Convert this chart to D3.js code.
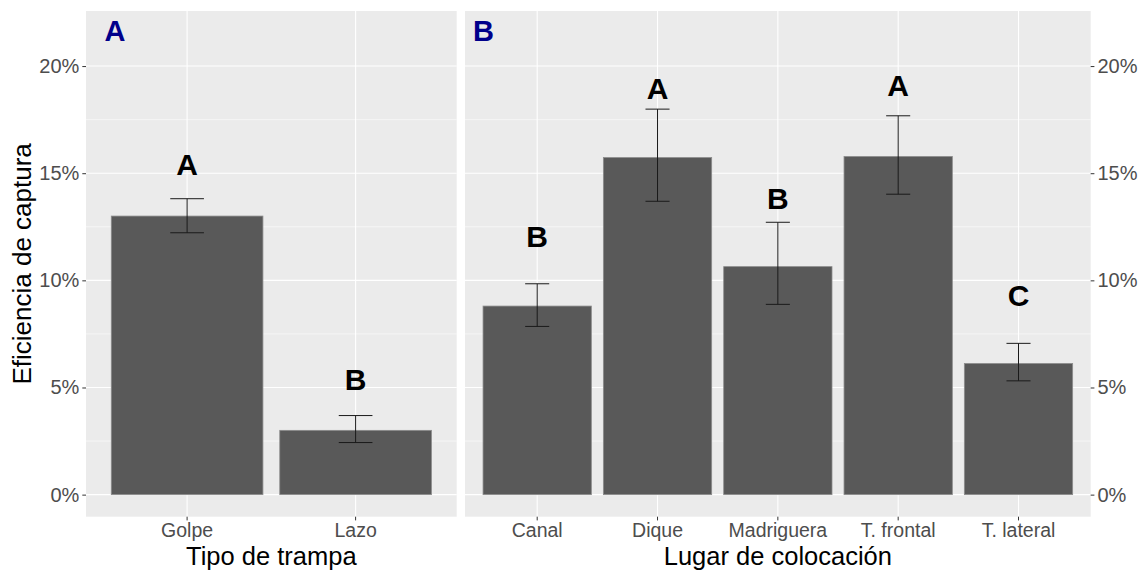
<!DOCTYPE html>
<html>
<head>
<meta charset="utf-8">
<script src="https://cdn.jsdelivr.net/npm/d3@7"></script>
<style>
  body { margin: 0; background: #fff; }
  svg { display: block; font-family: "Liberation Sans", Arial, sans-serif; }
</style>
</head>
<body>
<div id="chart"></div>
<script>
// Panel A: trap type
const trapTypes = ["Golpe", "Lazo"];
const trapEff = [13.0, 3.0];
const trapLow = [12.22, 2.43];
const trapHigh = [13.81, 3.69];
const trapLetters = ["A", "B"];
const trapLetterPos = [15.4, 5.4];

// Panel B: placement site
const sites = ["Canal", "Dique", "Madriguera", "T. frontal", "T. lateral"];
const siteEff = [8.8, 15.73, 10.64, 15.78, 6.12];
const siteLow = [7.85, 13.69, 8.88, 14.02, 5.31];
const siteHigh = [9.84, 17.99, 12.71, 17.68, 7.06];
const siteLetters = ["B", "A", "B", "A", "C"];
const siteLetterPos = [12.04, 18.97, 13.83, 19.09, 9.33];

const yTicks = [0, 5, 10, 15, 20];
const yMinor = [2.5, 7.5, 12.5, 17.5];

const W = 1142, H = 570;
const panelTop = 11, panelBottom = 516.7;

const svg = d3.select("#chart").append("svg")
  .attr("width", W).attr("height", H);

// shared y scale (percent)
const y = d3.scaleLinear().domain([-1.03, 22.57]).range([panelBottom, panelTop]);

function drawPanel(opts) {
  const x = d3.scaleBand()
    .domain(opts.cats)
    .range([opts.x0, opts.x1])
    .paddingInner(0.1)
    .paddingOuter(0.15);
  const g = svg.append("g");

  g.append("rect")
    .attr("x", opts.x0).attr("y", panelTop)
    .attr("width", opts.x1 - opts.x0).attr("height", panelBottom - panelTop)
    .attr("fill", "#EBEBEB");

  // grid
  g.selectAll(".minor").data(yMinor).join("line")
    .attr("x1", opts.x0).attr("x2", opts.x1)
    .attr("y1", d => y(d)).attr("y2", d => y(d))
    .attr("stroke", "#fff").attr("stroke-width", 0.55);
  g.selectAll(".major").data(yTicks).join("line")
    .attr("x1", opts.x0).attr("x2", opts.x1)
    .attr("y1", d => y(d)).attr("y2", d => y(d))
    .attr("stroke", "#fff").attr("stroke-width", 1.1);
  g.selectAll(".vgrid").data(opts.cats).join("line")
    .attr("x1", d => x(d) + x.bandwidth() / 2).attr("x2", d => x(d) + x.bandwidth() / 2)
    .attr("y1", panelTop).attr("y2", panelBottom)
    .attr("stroke", "#fff").attr("stroke-width", 1.1);

  // bars
  g.selectAll(".bar").data(opts.cats).join("rect")
    .attr("x", d => x(d))
    .attr("width", x.bandwidth())
    .attr("y", (d, i) => y(opts.vals[i]))
    .attr("height", (d, i) => y(0) - y(opts.vals[i]))
    .attr("fill", "#595959")
    .attr("stroke", "#8c8c8c").attr("stroke-width", 0.8);

  // error bars
  const cap = x.step() * 0.2 / 2;
  const eb = g.selectAll(".err").data(opts.cats).join("g")
    .attr("stroke", "#1a1a1a").attr("stroke-width", 1);
  eb.append("line")
    .attr("x1", d => x(d) + x.bandwidth() / 2).attr("x2", d => x(d) + x.bandwidth() / 2)
    .attr("y1", (d, i) => y(opts.low[i])).attr("y2", (d, i) => y(opts.high[i]));
  eb.append("line")
    .attr("x1", d => x(d) + x.bandwidth() / 2 - cap).attr("x2", d => x(d) + x.bandwidth() / 2 + cap)
    .attr("y1", (d, i) => y(opts.high[i])).attr("y2", (d, i) => y(opts.high[i]));
  eb.append("line")
    .attr("x1", d => x(d) + x.bandwidth() / 2 - cap).attr("x2", d => x(d) + x.bandwidth() / 2 + cap)
    .attr("y1", (d, i) => y(opts.low[i])).attr("y2", (d, i) => y(opts.low[i]));

  // significance letters
  g.selectAll(".letter").data(opts.cats).join("text")
    .attr("x", d => x(d) + x.bandwidth() / 2)
    .attr("y", (d, i) => y(opts.letterPos[i]))
    .attr("dy", "0.36em")
    .attr("text-anchor", "middle")
    .attr("font-size", 30).attr("font-weight", "bold")
    .attr("fill", "#000")
    .text((d, i) => opts.letters[i]);

  // panel tag
  g.append("text")
    .attr("x", opts.x0 + opts.tagDx).attr("y", 40.7)
    .attr("font-size", 29).attr("font-weight", "bold")
    .attr("fill", "#00008B")
    .text(opts.tag);

  // x axis
  const xAxis = g.append("g")
    .attr("transform", `translate(0,${panelBottom})`)
    .call(d3.axisBottom(x).tickSize(3.7).tickPadding(2.5));
  xAxis.select(".domain").remove();
  xAxis.selectAll(".tick line").attr("stroke", "#333");
  xAxis.selectAll(".tick text")
    .attr("font-size", 19.5).attr("fill", "#4D4D4D")
    .attr("font-family", "Liberation Sans, Arial, sans-serif");

  g.append("text")
    .attr("x", (opts.x0 + opts.x1) / 2).attr("y", 565)
    .attr("text-anchor", "middle")
    .attr("font-size", 25.5).attr("fill", "#000")
    .text(opts.title);

  // y axis
  const yAx = opts.yRight
    ? d3.axisRight(y).tickValues(yTicks)
    : d3.axisLeft(y).tickValues(yTicks);
  const yAxis = g.append("g")
    .attr("transform", `translate(${opts.yRight ? opts.x1 : opts.x0},0)`)
    .call(yAx.tickSize(3.7).tickPadding(3).tickFormat(d => d + "%"));
  yAxis.select(".domain").remove();
  yAxis.selectAll(".tick line").attr("stroke", "#333");
  yAxis.selectAll(".tick text")
    .attr("font-size", 20).attr("fill", "#4D4D4D")
    .attr("font-family", "Liberation Sans, Arial, sans-serif");
}

drawPanel({
  cats: trapTypes, vals: trapEff, low: trapLow, high: trapHigh,
  letters: trapLetters, letterPos: trapLetterPos,
  x0: 86, x1: 456.7, tag: "A", tagDx: 18.5, title: "Tipo de trampa", yRight: false
});

drawPanel({
  cats: sites, vals: siteEff, low: siteLow, high: siteHigh,
  letters: siteLetters, letterPos: siteLetterPos,
  x0: 465, x1: 1090.7, tag: "B", tagDx: 8, title: "Lugar de colocación", yRight: true
});

// y axis title
svg.append("text")
  .attr("transform", `translate(31,${(panelTop + panelBottom) / 2}) rotate(-90)`)
  .attr("text-anchor", "middle")
  .attr("font-size", 26).attr("fill", "#000")
  .text("Eficiencia de captura");
</script>
</body>
</html>
